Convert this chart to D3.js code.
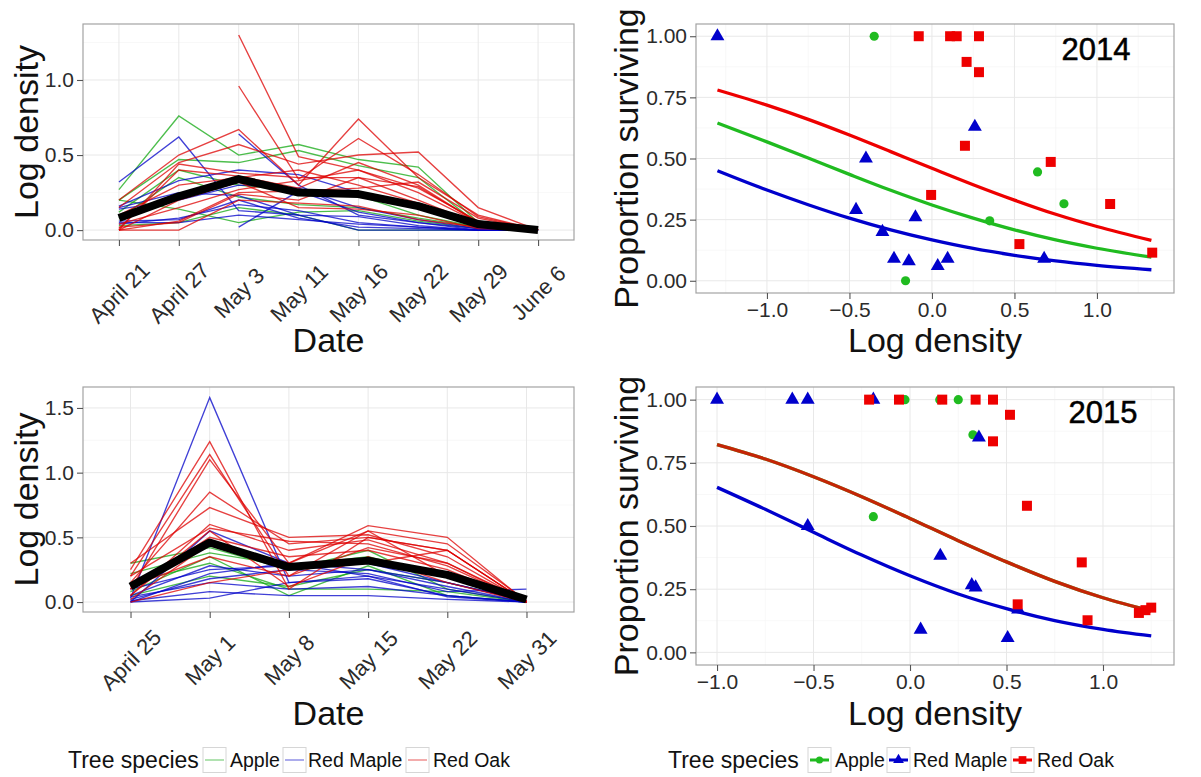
<!DOCTYPE html>
<html lang="en">
<head>
<meta charset="UTF-8">
<title>Log density and survival, 2014 and 2015</title>
<script src="https://d3js.org/d3.v7.min.js"></script>
<style>
  body { margin: 0; background: #fff; }
  svg { display: block; }
</style>
</head>
<body>
<svg id="chart" width="1201" height="777"></svg>
<script>
// ---- data ----
const species = ["Apple", "Red Maple", "Red Oak"];

// 2014 log density per tree, by sampling date (null = not sampled)
const dates2014 = ["April 21", "April 27", "May 3", "May 11", "May 16", "May 22", "May 29", "June 6"];
const mean2014 = [0.08, 0.225, 0.34, 0.25, 0.24, 0.16, 0.04, 0.0];
const apple2014 = [
  [0.27, 0.76, 0.50, 0.57, 0.47, 0.42, 0.05, 0],
  [0.20, 0.47, 0.45, 0.53, 0.43, 0.35, 0.04, 0],
  [0.08, 0.35, 0.22, 0.17, 0.15, 0.08, 0.02, 0],
  [0.20, 0.14, 0.05, 0.12, 0.13, 0.06, 0.01, 0],
  [0.12, 0.40, 0.30, 0.26, 0.23, 0.10, 0.02, 0],
  [0.03, 0.05, 0.15, 0.10, 0.00, 0.00, 0.00, 0]
];
const maple2014 = [
  [0.32, 0.62, 0.13, 0.10, 0.09, 0.03, 0.00, 0],
  [0.16, 0.33, 0.40, 0.37, 0.25, 0.18, 0.03, 0],
  [null, null, 0.64, 0.30, 0.10, 0.05, 0.01, 0],
  [null, null, 0.02, 0.26, 0.12, 0.05, 0.00, 0],
  [0.06, 0.07, 0.20, 0.08, 0.02, 0.01, 0.00, 0],
  [0.05, 0.05, 0.10, 0.07, 0.04, 0.02, 0.00, 0],
  [0.15, 0.25, 0.23, 0.10, 0.00, 0.00, 0.00, 0],
  [0.04, 0.08, 0.17, 0.13, 0.05, 0.02, 0.00, 0],
  [0.14, 0.20, 0.30, 0.28, 0.15, 0.07, 0.01, 0]
];
const oak2014 = [
  [null, null, 1.30, 0.49, 0.40, 0.28, 0.06, 0],
  [null, null, 0.96, 0.34, 0.61, 0.37, 0.09, 0],
  [0.20, 0.50, 0.67, 0.30, 0.74, 0.35, 0.10, 0],
  [0.15, 0.45, 0.57, 0.44, 0.50, 0.52, 0.15, 0],
  [0.00, 0.44, 0.38, 0.35, 0.35, 0.29, 0.05, 0],
  [0.01, 0.40, 0.36, 0.28, 0.45, 0.30, 0.05, 0],
  [0.00, 0.06, 0.25, 0.26, 0.28, 0.32, 0.08, 0],
  [0.02, 0.05, 0.24, 0.20, 0.35, 0.20, 0.04, 0],
  [0.04, 0.15, 0.27, 0.33, 0.40, 0.25, 0.05, 0],
  [0.00, 0.00, 0.20, 0.18, 0.16, 0.07, 0.02, 0],
  [0.10, 0.30, 0.35, 0.40, 0.30, 0.18, 0.03, 0],
  [0.00, 0.20, 0.32, 0.15, 0.14, 0.10, 0.01, 0]
];

// 2015 log density per tree
const dates2015 = ["April 25", "May 1", "May 8", "May 15", "May 22", "May 31"];
const mean2015 = [0.12, 0.46, 0.27, 0.32, 0.21, 0.02];
const apple2015 = [
  [0.30, 0.42, 0.25, 0.40, 0.10, 0.00],
  [0.22, 0.38, 0.28, 0.35, 0.20, 0.00],
  [0.08, 0.35, 0.05, 0.28, 0.05, 0.00],
  [0.15, 0.30, 0.10, 0.10, 0.08, 0.00],
  [0.05, 0.20, 0.12, 0.25, 0.15, 0.01]
];
const maple2015 = [
  [0.03, 1.58, 0.15, 0.20, 0.10, 0.00],
  [0.00, 0.55, 0.30, 0.25, 0.15, 0.01],
  [0.05, 0.28, 0.20, 0.25, 0.12, 0.00],
  [0.00, 0.03, 0.15, 0.18, 0.05, 0.00],
  [0.02, 0.18, 0.25, 0.22, 0.08, 0.10],
  [0.01, 0.08, 0.05, 0.05, 0.02, 0.00],
  [0.10, 0.25, 0.28, 0.30, 0.15, 0.01],
  [0.04, 0.15, 0.10, 0.12, 0.05, 0.00],
  [0.00, 0.22, 0.30, 0.20, 0.04, 0.00]
];
const oak2015 = [
  [0.25, 1.24, 0.10, 0.50, 0.40, 0.00],
  [0.20, 1.14, 0.20, 0.55, 0.45, 0.01],
  [0.10, 1.10, 0.30, 0.59, 0.50, 0.00],
  [0.15, 0.85, 0.45, 0.50, 0.40, 0.00],
  [0.30, 0.73, 0.50, 0.52, 0.35, 0.00],
  [0.05, 0.60, 0.40, 0.48, 0.30, 0.01],
  [0.20, 0.57, 0.47, 0.45, 0.28, 0.00],
  [0.10, 0.50, 0.35, 0.40, 0.25, 0.00],
  [0.02, 0.45, 0.30, 0.55, 0.20, 0.00],
  [0.12, 0.35, 0.20, 0.42, 0.30, 0.00],
  [0.00, 0.15, 0.25, 0.30, 0.40, 0.00],
  [0.05, 0.55, 0.12, 0.35, 0.15, 0.00]
];

// proportion surviving vs log density, [logDensity, proportion]
const appleSurv2014 = [[-0.35, 1.00], [-0.16, 0.00], [0.35, 0.245], [0.64, 0.445], [0.80, 0.315]];
const mapleSurv2014 = [[-1.30, 1.00], [-0.40, 0.50], [-0.46, 0.29], [-0.30, 0.20], [-0.23, 0.09], [-0.14, 0.08],
  [-0.10, 0.26], [0.035, 0.06], [0.095, 0.09], [0.26, 0.63], [0.68, 0.09]];
const oakSurv2014 = [[-0.08, 1.00], [0.11, 1.00], [0.15, 1.00], [0.285, 1.00], [0.21, 0.895], [0.285, 0.853],
  [0.20, 0.552], [-0.005, 0.351], [0.72, 0.486], [0.53, 0.15], [1.08, 0.314], [1.335, 0.115]];

const appleSurv2015 = [[-0.19, 0.537], [-0.026, 1.00], [0.154, 1.00], [0.25, 1.00], [0.326, 0.861]];
const mapleSurv2015 = [[-1.00, 1.00], [-0.61, 1.00], [-0.53, 1.00], [-0.19, 1.00], [-0.53, 0.50], [0.055, 0.09],
  [0.357, 0.85], [0.157, 0.382], [0.32, 0.266], [0.34, 0.257], [0.56, 0.17], [0.506, 0.057]];
const oakSurv2015 = [[-0.212, 1.00], [-0.057, 1.00], [0.167, 1.00], [0.34, 1.00], [0.43, 1.00], [0.518, 0.94],
  [0.43, 0.835], [0.606, 0.58], [0.89, 0.356], [0.558, 0.19], [0.92, 0.127], [1.186, 0.156], [1.22, 0.167], [1.25, 0.177]];

// fitted survival curves, read along log density
const fitX2014 = [-1.3, -1.0, -0.75, -0.5, -0.25, 0, 0.25, 0.5, 0.75, 1.0, 1.33];
const appleFit2014 = [0.645, 0.568, 0.502, 0.435, 0.370, 0.310, 0.256, 0.208, 0.167, 0.133, 0.097];
const mapleFit2014 = [0.450, 0.371, 0.311, 0.256, 0.208, 0.167, 0.132, 0.104, 0.081, 0.063, 0.045];
const oakFit2014 = [0.780, 0.718, 0.660, 0.596, 0.528, 0.460, 0.393, 0.330, 0.272, 0.222, 0.165];
const fitX2015 = [-1.0, -0.75, -0.5, -0.25, 0, 0.25, 0.5, 0.75, 1.0, 1.25];
const appleFit2015 = [0.822, 0.765, 0.695, 0.616, 0.530, 0.442, 0.358, 0.281, 0.216, 0.164];
const mapleFit2015 = [0.653, 0.566, 0.475, 0.385, 0.303, 0.231, 0.173, 0.126, 0.091, 0.065];
const oakFit2015 = [0.822, 0.765, 0.695, 0.616, 0.530, 0.442, 0.358, 0.281, 0.216, 0.164];

// tick labels
const densityTicks2014 = [0, 0.5, 1.0];
const densityTicks2015 = [0, 0.5, 1.0, 1.5];
const propTicks = [0, 0.25, 0.5, 0.75, 1.0];
const logTicks = [-1.0, -0.5, 0, 0.5, 1.0];

// ---- drawing ----
const FONT = '"Liberation Sans", Arial, Helvetica, sans-serif';
const lineColor = { "Apple": "#12a812", "Red Maple": "#0000c8", "Red Oak": "#dd0000" };
const pointColor = { "Apple": "#20bb20", "Red Maple": "#0000cc", "Red Oak": "#ee0000" };
const symbolOf = { "Apple": d3.symbolCircle, "Red Maple": d3.symbolTriangle, "Red Oak": d3.symbolSquare };
const symbolSize = { "Apple": 66, "Red Maple": 84, "Red Oak": 100 };

const svg = d3.select("#chart");

// minor grid lines sit halfway between majors (and half a step outside)
function minors(major, domain) {
  const step = major[1] - major[0];
  const out = [];
  for (let i = -1; i < major.length; i++) {
    const v = (i < 0 ? major[0] - step : major[i]) + step / 2;
    if (v > domain[0] && v < domain[1]) out.push(v);
  }
  return out;
}

function grid(g, box, xMajor, xMinor, yMajor, yMinor) {
  g.append("rect")
    .attr("x", box.left).attr("y", box.top)
    .attr("width", box.right - box.left).attr("height", box.bottom - box.top)
    .attr("fill", "#fff");
  const lines = (vals, horiz, color, w) => g.append("g").selectAll("line")
    .data(vals).join("line")
    .attr("x1", d => horiz ? box.left : d).attr("x2", d => horiz ? box.right : d)
    .attr("y1", d => horiz ? d : box.top).attr("y2", d => horiz ? d : box.bottom)
    .attr("stroke", color).attr("stroke-width", w);
  lines(yMinor, true, "#f5f5f5", 0.7);
  lines(xMinor, false, "#f5f5f5", 0.7);
  lines(yMajor, true, "#e8e8e8", 1);
  lines(xMajor, false, "#e8e8e8", 1);
}

function border(g, box) {
  g.append("rect")
    .attr("x", box.left).attr("y", box.top)
    .attr("width", box.right - box.left).attr("height", box.bottom - box.top)
    .attr("fill", "none").attr("stroke", "#a3a3a3").attr("stroke-width", 1.2);
}

function styleAxis(a) {
  a.select(".domain").remove();
  a.selectAll(".tick line").attr("stroke", "#555").attr("stroke-width", 1.1);
  a.selectAll(".tick text").attr("font-family", FONT).attr("font-size", 21).attr("fill", "#2b2b2b");
}

function yTitle(text, x, y) {
  svg.append("text")
    .attr("transform", `translate(${x},${y}) rotate(-90)`)
    .attr("text-anchor", "middle")
    .attr("font-family", FONT).attr("font-size", 34).attr("fill", "#111")
    .text(text);
}

function xTitle(text, x, y) {
  svg.append("text")
    .attr("x", x).attr("y", y)
    .attr("text-anchor", "middle")
    .attr("font-family", FONT).attr("font-size", 34).attr("fill", "#111")
    .text(text);
}

function drawLinePanel(box, dates, yDomain, yTicks, groups, mean, labelDrop) {
  const g = svg.append("g");
  const x = d3.scalePoint().domain(dates).range([box.left, box.right]).padding(0.6);
  const y = d3.scaleLinear().domain(yDomain).range([box.bottom, box.top]);

  grid(g, box, dates.map(x), [], yTicks.map(y), minors(yTicks, yDomain).map(y));

  const line = d3.line()
    .defined(d => d[1] !== null)
    .x(d => x(d[0])).y(d => y(d[1]));

  groups.forEach(([name, rows]) => {
    g.append("g").selectAll("path")
      .data(rows).join("path")
      .attr("d", r => line(r.map((v, i) => [dates[i], v])))
      .attr("fill", "none")
      .attr("stroke", lineColor[name])
      .attr("stroke-opacity", 0.75)
      .attr("stroke-width", 1.35);
  });

  // mean across trees
  g.append("path")
    .attr("d", line(mean.map((v, i) => [dates[i], v])))
    .attr("fill", "none").attr("stroke", "#000")
    .attr("stroke-width", 8).attr("stroke-linejoin", "round");

  border(g, box);

  g.append("g").attr("transform", `translate(${box.left},0)`)
    .call(d3.axisLeft(y).tickValues(yTicks).tickSize(6).tickPadding(3).tickFormat(d3.format(".1f")))
    .call(styleAxis);

  g.append("g").attr("transform", `translate(0,${box.bottom})`)
    .call(d3.axisBottom(x).tickSize(6))
    .call(styleAxis)
    .call(a => a.selectAll(".tick text")
      .attr("y", 0).attr("dy", null)
      .attr("font-size", 22)
      .attr("text-anchor", "middle")
      .attr("dominant-baseline", "central")
      .attr("transform", `translate(0,${labelDrop}) rotate(-45)`));
}

function drawSurvPanel(box, xDomain, sets, fits, fitX, label) {
  const g = svg.append("g");
  const yDomain = [-0.05, 1.05];
  const x = d3.scaleLinear().domain(xDomain).range([box.left, box.right]);
  const y = d3.scaleLinear().domain(yDomain).range([box.bottom, box.top]);

  grid(g, box, logTicks.map(x), minors(logTicks, xDomain).map(x),
    propTicks.map(y), minors(propTicks, yDomain).map(y));

  const curve = d3.line().curve(d3.curveMonotoneX).x(d => x(d[0])).y(d => y(d[1]));
  fits.forEach(([name, vals, op]) => {
    g.append("path")
      .attr("d", curve(vals.map((v, i) => [fitX[i], v])))
      .attr("fill", "none").attr("stroke", pointColor[name])
      .attr("stroke-opacity", op)
      .attr("stroke-width", 3.3);
  });

  sets.forEach(([name, pts]) => {
    g.append("g").selectAll("path")
      .data(pts).join("path")
      .attr("transform", d => `translate(${x(d[0])},${y(d[1])})`)
      .attr("d", d3.symbol(symbolOf[name], symbolSize[name]))
      .attr("fill", pointColor[name]);
  });

  border(g, box);

  g.append("g").attr("transform", `translate(${box.left},0)`)
    .call(d3.axisLeft(y).tickValues(propTicks).tickSize(6).tickPadding(3).tickFormat(d3.format(".2f")))
    .call(styleAxis);

  g.append("g").attr("transform", `translate(0,${box.bottom})`)
    .call(d3.axisBottom(x).tickValues(logTicks).tickSize(6).tickPadding(3).tickFormat(d3.format(".1f")))
    .call(styleAxis);

  svg.append("text")
    .attr("x", label.x).attr("y", label.y)
    .attr("text-anchor", "middle")
    .attr("font-family", FONT).attr("font-size", 31).attr("fill", "#000")
    .attr("stroke", "#000").attr("stroke-width", 0.5)
    .text(label.text);
}

// top row: 2014
const boxTL = { left: 83, right: 574, top: 24, bottom: 240 };
drawLinePanel(boxTL, dates2014, [-0.066, 1.373], densityTicks2014,
  [["Apple", apple2014], ["Red Maple", maple2014], ["Red Oak", oak2014]], mean2014, 53);
yTitle("Log density", 38, (boxTL.top + boxTL.bottom) / 2);
xTitle("Date", (boxTL.left + boxTL.right) / 2, 352);

const boxTR = { left: 696, right: 1174, top: 24, bottom: 293 };
drawSurvPanel(boxTR, [-1.43, 1.467],
  [["Apple", appleSurv2014], ["Red Maple", mapleSurv2014], ["Red Oak", oakSurv2014]],
  [["Red Oak", oakFit2014, 1], ["Apple", appleFit2014, 1], ["Red Maple", mapleFit2014, 1]],
  fitX2014, { text: "2014", x: 1096, y: 60 });
yTitle("Proportion surviving", 638, (boxTR.top + boxTR.bottom) / 2);
xTitle("Log density", (boxTR.left + boxTR.right) / 2, 352);

// bottom row: 2015
const boxBL = { left: 83, right: 574, top: 387, bottom: 612 };
drawLinePanel(boxBL, dates2015, [-0.077, 1.662], densityTicks2015,
  [["Apple", apple2015], ["Red Maple", maple2015], ["Red Oak", oak2015]], mean2015, 48);
yTitle("Log density", 38, (boxBL.top + boxBL.bottom) / 2);
xTitle("Date", (boxBL.left + boxBL.right) / 2, 725);

const boxBR = { left: 696, right: 1174, top: 387, bottom: 665 };
drawSurvPanel(boxBR, [-1.109, 1.368],
  [["Apple", appleSurv2015], ["Red Maple", mapleSurv2015], ["Red Oak", oakSurv2015]],
  [["Apple", appleFit2015, 1], ["Red Oak", oakFit2015, 0.8], ["Red Maple", mapleFit2015, 1]],
  fitX2015, { text: "2015", x: 1103, y: 423 });
yTitle("Proportion surviving", 638, (boxBR.top + boxBR.bottom) / 2);
xTitle("Log density", (boxBR.left + boxBR.right) / 2, 725);

// legends
function legend(x0, keyXs, labelXs, withPoints) {
  const cy = 760;
  const g = svg.append("g").attr("font-family", FONT);
  g.append("text").attr("x", x0).attr("y", cy).attr("dominant-baseline", "central")
    .attr("font-size", 23).attr("fill", "#111").text("Tree species");
  species.forEach((name, i) => {
    const kx = keyXs[i];
    g.append("rect").attr("x", kx).attr("y", cy - 12.5).attr("width", 23).attr("height", 25)
      .attr("fill", "#fff").attr("stroke", "#d6d6d6");
    g.append("line").attr("x1", kx + 2).attr("x2", kx + 21).attr("y1", cy).attr("y2", cy)
      .attr("stroke", withPoints ? pointColor[name] : lineColor[name])
      .attr("stroke-opacity", withPoints ? 1 : 0.5)
      .attr("stroke-width", withPoints ? 3 : 1.3);
    if (withPoints) {
      g.append("path").attr("transform", `translate(${kx + 11.5},${cy})`)
        .attr("d", d3.symbol(symbolOf[name], symbolSize[name] * 0.6))
        .attr("fill", pointColor[name]);
    }
    g.append("text").attr("x", labelXs[i]).attr("y", cy).attr("dominant-baseline", "central")
      .attr("font-size", 19.5).attr("fill", "#111").text(name);
  });
}
legend(68, [203, 283, 406], [230, 308, 433], false);
legend(668, [808, 887, 1011], [835, 913, 1037], true);
</script>
</body>
</html>
